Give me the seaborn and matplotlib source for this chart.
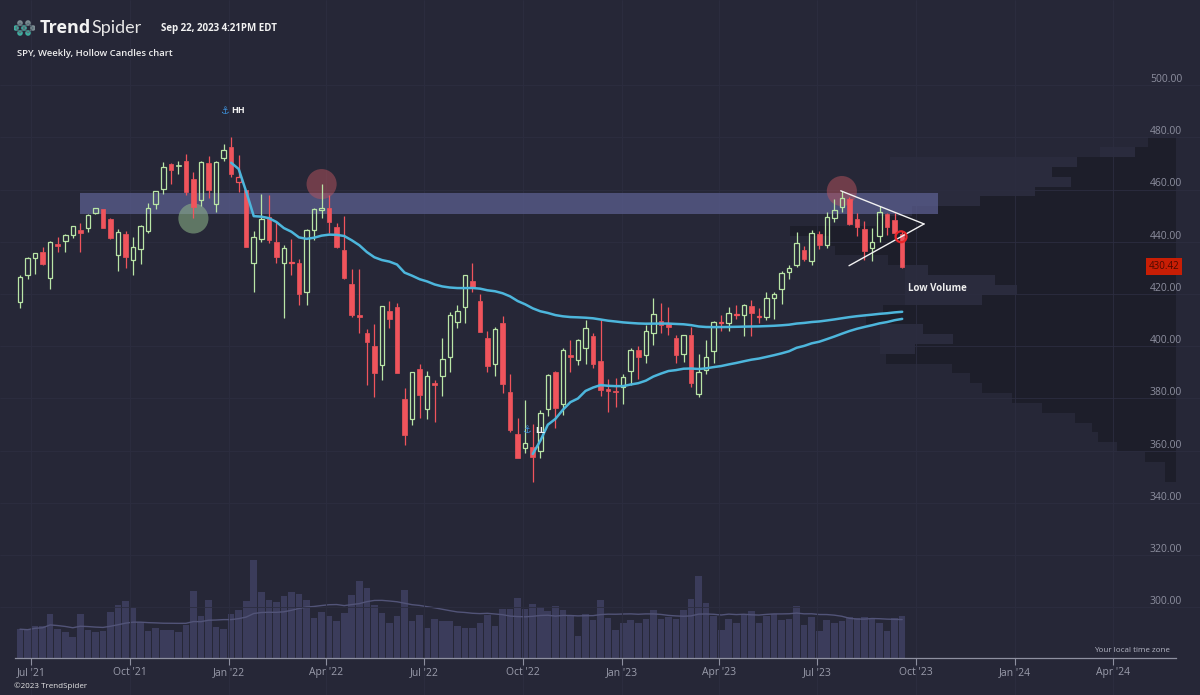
import numpy as np
import pandas as pd
import matplotlib
matplotlib.use("Agg")
import matplotlib.pyplot as plt
from matplotlib.patches import Rectangle
import seaborn as sns

# ---------------- data ----------------
first_week = "2021-06-21"
opens = [416.8, 427.2, 433.8, 436.0, 426.2, 439.3, 440.3, 442.5, 444.5, 445.2,
         450.97, 452.7, 448.6, 434.9, 442.8, 433.0, 437.2, 443.97, 454.3, 460.3,
         469.7, 469.0, 470.9, 464.1, 456.1, 470.2, 454.5, 472.1, 476.3, 462.7,
         459.7, 432.0, 441.2, 449.5, 439.9, 431.9, 432.0, 431.75, 420.9, 444.3,
         452.1, 453.1, 445.6, 436.8, 423.7, 412.1, 405.1, 399.98, 392.8, 413.6,
         414.8, 379.9, 371.9, 391.1, 375.9, 385.9, 388.4, 395.75, 409.2, 415.0,
         424.8, 417.1, 403.0, 393.1, 408.8, 382.3, 366.5, 361.1, 361.2, 360.0,
         375.9, 390.1, 377.7, 396.7, 394.6, 399.1, 403.95, 394.3, 383.5, 382.8,
         384.4, 390.4, 398.5, 396.7, 405.2, 409.8, 408.7, 403.1, 397.0, 404.4,
         381.8, 390.8, 398.1, 408.9, 408.8, 412.0, 411.99, 415.5, 411.1, 411.1,
         418.6, 422.0, 428.3, 430.9, 436.7, 432.6, 442.9, 438.9, 449.1, 453.4,
         456.3, 448.7, 444.7, 437.6, 442.2, 450.7, 448.2, 443.1]
highs = [427.1, 434.1, 435.8, 437.9, 440.3, 441.8, 442.9, 445.9, 447.1, 450.7,
         453.1, 452.7, 448.9, 444.9, 444.1, 441.7, 446.3, 454.7, 459.6, 470.7,
         470.2, 470.9, 473.5, 466.6, 470.9, 472.9, 470.9, 477.3, 479.98, 473.2,
         459.96, 444.0, 458.1, 457.9, 447.5, 438.7, 441.1, 433.4, 444.9, 452.98,
         462.07, 457.8, 447.1, 450.0, 429.7, 429.7, 406.4, 408.6, 415.4, 417.4,
         416.6, 383.9, 390.1, 393.2, 390.4, 386.9, 403.1, 413.0, 415.7, 427.2,
         431.7, 419.96, 405.8, 407.5, 411.7, 389.3, 372.3, 379.5, 370.3, 375.4,
         389.5, 390.4, 399.4, 402.3, 402.9, 410.0, 404.9, 410.5, 387.4, 387.9,
         389.3, 399.1, 400.2, 408.2, 418.3, 416.5, 415.1, 404.2, 404.2, 407.5,
         397.0, 402.5, 409.7, 411.9, 415.1, 415.7, 416.0, 417.6, 414.5, 420.7,
         420.8, 428.7, 431.0, 443.9, 438.4, 444.3, 444.1, 451.4, 456.4, 459.4,
         457.25, 451.0, 448.1, 445.2, 453.7, 451.1, 451.1, 444.0]
lows = [414.7, 425.6, 427.5, 430.9, 421.97, 436.0, 436.1, 441.3, 436.1, 443.7,
        450.7, 445.3, 441.0, 428.9, 430.0, 427.2, 431.5, 443.5, 452.4, 458.2,
        462.0, 465.9, 457.8, 448.9, 453.6, 456.9, 451.4, 471.0, 464.65, 459.2,
        437.95, 420.76, 439.8, 439.6, 431.8, 410.6, 427.1, 415.8, 415.8, 440.7,
        449.1, 443.4, 437.6, 425.9, 411.2, 405.0, 385.2, 380.5, 386.96, 406.9,
        389.8, 362.2, 369.7, 372.6, 372.0, 371.0, 380.7, 389.95, 406.8, 409.0,
        420.9, 405.25, 390.0, 388.4, 382.0, 366.9, 357.0, 359.2, 348.1, 357.3,
        373.1, 368.8, 373.6, 390.0, 392.7, 393.3, 391.6, 381.0, 374.8, 376.5,
        377.8, 385.2, 387.3, 393.6, 400.3, 405.0, 404.1, 393.6, 393.9, 384.3,
        380.65, 389.4, 393.7, 405.7, 405.97, 410.2, 403.8, 403.7, 408.9, 409.9,
        410.2, 416.2, 425.8, 430.2, 432.5, 431.2, 437.1, 437.6, 447.5, 451.55,
        446.3, 442.3, 433.0, 432.6, 439.97, 442.4, 442.0, 429.99]
closes = [426.6, 433.7, 435.5, 431.3, 439.9, 438.5, 442.5, 445.9, 443.4, 450.3,
          453.1, 445.4, 441.4, 443.9, 434.2, 437.9, 445.9, 453.1, 459.3, 468.5,
          467.3, 468.9, 458.97, 453.4, 470.7, 459.9, 470.6, 474.96, 466.1, 464.7,
          437.98, 441.95, 448.7, 440.46, 434.2, 437.75, 432.2, 420.1, 444.5, 452.7,
          452.9, 447.6, 437.8, 426.0, 412.0, 411.3, 401.7, 389.6, 415.3, 410.5,
          389.8, 365.9, 390.1, 381.2, 388.7, 385.1, 395.1, 412.0, 413.5, 427.1,
          422.1, 405.3, 392.2, 406.6, 385.6, 367.95, 357.2, 362.8, 357.6, 374.3,
          389.0, 376.4, 398.5, 396.0, 402.3, 406.9, 393.3, 383.3, 382.9, 382.4,
          388.1, 398.5, 395.9, 405.7, 412.4, 408.0, 407.3, 396.4, 404.2, 385.9,
          390.0, 395.75, 409.4, 409.2, 412.5, 412.2, 415.9, 412.6, 411.6, 418.6,
          420.0, 427.9, 429.9, 439.5, 433.2, 443.3, 438.55, 449.3, 452.2, 456.9,
          446.8, 445.65, 436.5, 439.97, 451.2, 445.5, 443.4, 430.42]
volumes = [283, 273, 320, 313, 440, 287, 257, 207, 433, 280,
           253, 263, 453, 523, 567, 500, 357, 267, 300, 280,
           273, 257, 327, 663, 420, 573, 303, 287, 433, 473,
           567, 973, 653, 573, 553, 613, 653, 640, 575, 400,
           460, 417, 363, 447, 630, 763, 697, 530, 447, 347,
           413, 680, 363, 423, 297, 390, 367, 363, 313, 297,
           300, 347, 423, 313, 487, 487, 600, 490, 540, 507,
           463, 520, 480, 417, 213, 440, 373, 572, 400, 280,
           347, 373, 347, 383, 480, 390, 407, 383, 473, 583,
           813, 550, 420, 273, 390, 347, 440, 463, 347, 413,
           440, 373, 383, 520, 323, 403, 263, 373, 350, 363,
           407, 397, 407, 397, 347, 263, 397, 420]  # millions of shares

hh_week = 28
ll_week = 68
support_circle_weeks = [23]
resistance_circle_weeks = [40, 109]
zone_weeks = [7.96, 121.8]
zone_prices = [450.5, 458.5]
triangle_weeks = [108.85, 119.9, 109.95]
triangle_prices = [459.5, 446.8, 430.8]
breakdown_week, breakdown_price = 116.85, 441.9
last_price = 430.42

# volume-at-price, top (high price) to bottom (low price)
profile_volume = [280, 410, 990, 1240, 1050, 1410, 1960, 2640, 3000, 3860,
                  3460, 3410, 2880, 2480, 1810, 1590, 1940, 2930, 3100, 2530,
                  2230, 2610, 2900, 2240, 2060, 1940, 1640, 1340, 1010, 840,
                  780, 590, 310, 110, 110]
# lighter (second-tone) part of the profile, same rows
profile_volume_light = [280, 760, 2860, 2860, 2860, 2860, 2860, 2860, 3000, 3860,
                        3460, 3410, 2880, 2710, 2710, 2710, 2710, 2930, 3100, 2960,
                        2960, 2960, 2900, 2240, 2060, 1940, 1640, 1340, 1010, 840,
                        780, 590, 310, 110, 110]

x_tick_dates = ["2021-07-01", "2021-10-01", "2022-01-01", "2022-04-01", "2022-07-01",
                "2022-10-01", "2023-01-01", "2023-04-01", "2023-07-01", "2023-10-01",
                "2024-01-01", "2024-04-01"]
x_tick_labels = ["Jul '21", "Oct '21", "Jan '22", "Apr '22", "Jul '22", "Oct '22",
                 "Jan '23", "Apr '23", "Jul '23", "Oct '23", "Jan '24", "Apr '24"]
y_ticks = [300, 320, 340, 360, 380, 400, 420, 440, 460, 480, 500]

# ---------------- style ----------------
BG = "#262737"
GREEN = "#b9e5a6"
RED = "#f0545c"
CYAN = "#4db6dc"
AXIS_GRAY = "#8e90a0"

sns.set_theme(style="dark", rc={"axes.facecolor": BG, "figure.facecolor": BG,
                                "savefig.facecolor": BG})
plt.rcParams["font.family"] = ["Open Sans", "DejaVu Sans"]

W_PX, H_PX = 1200, 695
X0_PX, PX_PER_WEEK = 20.0, 7.54
Y_REF_PX, Y_REF_VAL, PX_PER_USD = 241.7, 440.0, 2.61


def xw(px):
    return (px - X0_PX) / PX_PER_WEEK


def yp(py):
    return Y_REF_VAL + (Y_REF_PX - py) / PX_PER_USD


df = pd.DataFrame({"o": opens, "h": highs, "l": lows, "c": closes, "v": volumes})
df["i"] = np.arange(len(df))
prev_close = df["c"].shift(1).fillna(df["o"])
df["col"] = np.where(df["c"] >= prev_close, GREEN, RED)
df["hollow"] = df["c"] >= df["o"]
df["btop"] = df[["o", "c"]].max(axis=1)
df["bbot"] = df[["o", "c"]].min(axis=1)
df["bh"] = (df["btop"] - df["bbot"]).clip(lower=0.35)

fig = plt.figure(figsize=(12, 6.95), dpi=100)
ax = fig.add_axes([0, 0, 1, 1])
ax.patch.set_visible(False)
ax.set_xlim(xw(0), xw(W_PX))
ax.set_ylim(yp(H_PX), yp(0))

# ---- volume profile (behind everything) ----
axp = ax.twiny()
axp.set_zorder(-2)
nb = len(profile_volume)
edges = np.linspace(min(lows), max(highs), nb + 1)
centers_desc = ((edges[:-1] + edges[1:]) / 2)[::-1]
scale = 10.0  # volume units per pixel
axp.set_xlim(1176 * scale, (1176 - W_PX) * scale)
axp.barh(centers_desc, profile_volume_light, height=edges[1] - edges[0], left=0,
         color="#2a2b3d", linewidth=0)
axp.barh(centers_desc, profile_volume, height=edges[1] - edges[0], left=0,
         color="#1d1e2a", linewidth=0)
axp.axis("off")

# ---- volume panel ----
axv = ax.twinx()
axv.set_zorder(-1)
axv.set_ylim(-(H_PX - 657.5) * 10, 657.5 * 10)
axv.bar(df["i"], df["v"], width=0.88, color="#3b3c5b", linewidth=0)
vol_ma = df["v"].rolling(20, min_periods=1).mean()
sns.lineplot(x=df["i"], y=vol_ma, ax=axv, color="#525478", linewidth=1.0, legend=False)
axv.axis("off")

# ---- grid ----
tick_pos = [(pd.Timestamp(d) - pd.Timestamp(first_week)).days / 7 for d in x_tick_dates]
ax.set_xticks(tick_pos, x_tick_labels)
ax.set_yticks(y_ticks, [f"{v:.2f}" for v in y_ticks])
ax.grid(True, color="#2c2d40", linewidth=0.6)

# ---- resistance zone ----
ax.add_patch(Rectangle((zone_weeks[0], zone_prices[0]), zone_weeks[1] - zone_weeks[0],
                       zone_prices[1] - zone_prices[0], facecolor="#5b5e8f",
                       alpha=0.75, edgecolor="none", zorder=1))

# ---- circles ----
ax.scatter(support_circle_weeks, [lows[i] for i in support_circle_weeks], s=470,
           color="#8fb88a", alpha=0.55, edgecolors="none", zorder=1.5)
ax.scatter(resistance_circle_weeks, [highs[i] for i in resistance_circle_weeks], s=470,
           color="#b8545e", alpha=0.5, edgecolors="none", zorder=1.5)

# ---- candles ----
bw = 0.6
for hollow, sub in df.groupby("hollow"):
    if hollow:
        ax.bar(sub["i"], sub["bh"], bottom=sub["bbot"], width=bw, facecolor="none",
               edgecolor=sub["col"], linewidth=0.9, zorder=3)
    else:
        ax.bar(sub["i"], sub["bh"], bottom=sub["bbot"], width=bw, color=sub["col"],
               edgecolor=sub["col"], linewidth=0.5, zorder=3)
ax.vlines(df["i"], df["btop"], df["h"], colors=df["col"], linewidth=0.9, zorder=3)
ax.vlines(df["i"], df["l"], df["bbot"], colors=df["col"], linewidth=0.9, zorder=3)

# ---- anchored VWAPs ----
tp = (df["h"] + df["l"] + df["c"]) / 3
for a in (hh_week, ll_week):
    seg_tp = tp.iloc[a:]
    seg_v = df["v"].iloc[a:]
    vwap = (seg_tp * seg_v).cumsum() / seg_v.cumsum()
    sns.lineplot(x=df["i"].iloc[a:], y=vwap, ax=ax, color=CYAN, linewidth=1.8,
                 legend=False, zorder=4)
ax.set_xlabel("")
ax.set_ylabel("")

# ---- triangle ----
ax.plot([triangle_weeks[0], triangle_weeks[1]], [triangle_prices[0], triangle_prices[1]],
        color="#f2f2f2", linewidth=1.0, zorder=5)
ax.plot([triangle_weeks[2], triangle_weeks[1]], [triangle_prices[2], triangle_prices[1]],
        color="#f2f2f2", linewidth=1.0, zorder=5)
ax.scatter([breakdown_week], [breakdown_price], s=62, facecolors="none",
           edgecolors="#e8262a", linewidths=1.6, zorder=6)

# ---- labels on chart ----
ax.text(xw(937), yp(288.5), "Low Volume", color="#eeeeee", fontsize=7,
        fontweight="bold", ha="center", va="center", zorder=6)
ax.text(xw(1164), last_price, f"{last_price:.2f}", color="#4a0a02", fontsize=7,
        ha="center", va="center", zorder=7,
        bbox=dict(boxstyle="square,pad=0.3", facecolor="#c81e05", edgecolor="none"))
ax.annotate("\u2693", (hh_week, highs[hh_week]), xytext=(-5, 19), textcoords="offset points",
            color="#3d8fd8", fontsize=7, ha="center", va="center",
            family=["DejaVu Sans"], zorder=6)
ax.annotate("HH", (hh_week, highs[hh_week]), xytext=(0, 19), textcoords="offset points",
            color="#f0f0f0", fontsize=6.5, fontweight="bold", ha="left", va="center", zorder=6)
ax.annotate("\u2693", (ll_week, lows[ll_week]), xytext=(-4.3, 37), textcoords="offset points",
            color="#3d8fd8", fontsize=7, ha="center", va="center",
            family=["DejaVu Sans"], zorder=6)
ax.annotate("LL", (ll_week, lows[ll_week]), xytext=(1.5, 37), textcoords="offset points",
            color="#f0f0f0", fontsize=6.5, fontweight="bold", ha="left", va="center", zorder=6)

# ---- axes styling ----
for s in ("top", "left", "right"):
    ax.spines[s].set_visible(False)
ax.spines["bottom"].set_position(("data", yp(658)))
ax.spines["bottom"].set_bounds(xw(15), xw(1176))
ax.spines["bottom"].set_color(AXIS_GRAY)
ax.spines["bottom"].set_linewidth(0.9)
ax.xaxis.tick_bottom()
ax.tick_params(axis="x", direction="out", length=5, width=0.8, color=AXIS_GRAY,
               labelsize=7.5, labelcolor="#9a9cab", pad=1.5)
ax.yaxis.tick_right()
ax.tick_params(axis="y", length=0, pad=-36, labelsize=7.5, labelcolor="#8d8f9f",
               labelright=True, labelleft=False)
for lbl in ax.get_yticklabels():
    lbl.set_verticalalignment("bottom")

# ---- header / footer ----
def ft(px, py, s, **kw):
    fig.text(px / W_PX, 1 - py / H_PX, s, **kw)

logo = fig.add_axes([14 / W_PX, 1 - 38 / H_PX, 21 / W_PX, 20 / H_PX])
logo.set_xlim(0, 21); logo.set_ylim(20, 0); logo.axis("off")
logo.plot([2, 6, 10, 14, 19], [10, 5, 10, 5, 10], color="#5a6f78", lw=0.8)
logo.plot([2, 6, 10, 14, 19], [10, 15, 10, 15, 10], color="#5a6f78", lw=0.8)
logo.scatter([2, 6, 6, 10, 14, 14, 19], [10, 5, 15, 10, 5, 15, 10], s=9,
             color=["#3fae9f", "#7d8c92", "#3fae9f", "#3fae9f", "#7d8c92", "#3fae9f", "#7d8c92"])

ft(40, 28, "Trend", fontsize=13, fontweight="bold", color="#f2f2f2", va="center")
ft(91.5, 28, "Spider", fontsize=13, fontweight="normal", color="#e6e6e6", va="center",
   family=["Lato", "Open Sans", "DejaVu Sans"])
ft(161, 28.5, "Sep 22, 2023 4:21PM EDT", fontsize=7, fontweight="bold", color="#f2f2f2",
   va="center")
ft(17, 53.5, "SPY, Weekly, Hollow Candles chart", fontsize=6.8, fontweight="semibold",
   color="#eeeeee", va="center")
ft(1170, 651, "Your local time zone", fontsize=5.8, color="#b4b6c4", ha="right", va="center")
ft(14, 686, "\u00a92023 TrendSpider", fontsize=5.8, color="#e8e8e8", va="center")

fig.savefig("out.png", dpi=100, facecolor=BG)
